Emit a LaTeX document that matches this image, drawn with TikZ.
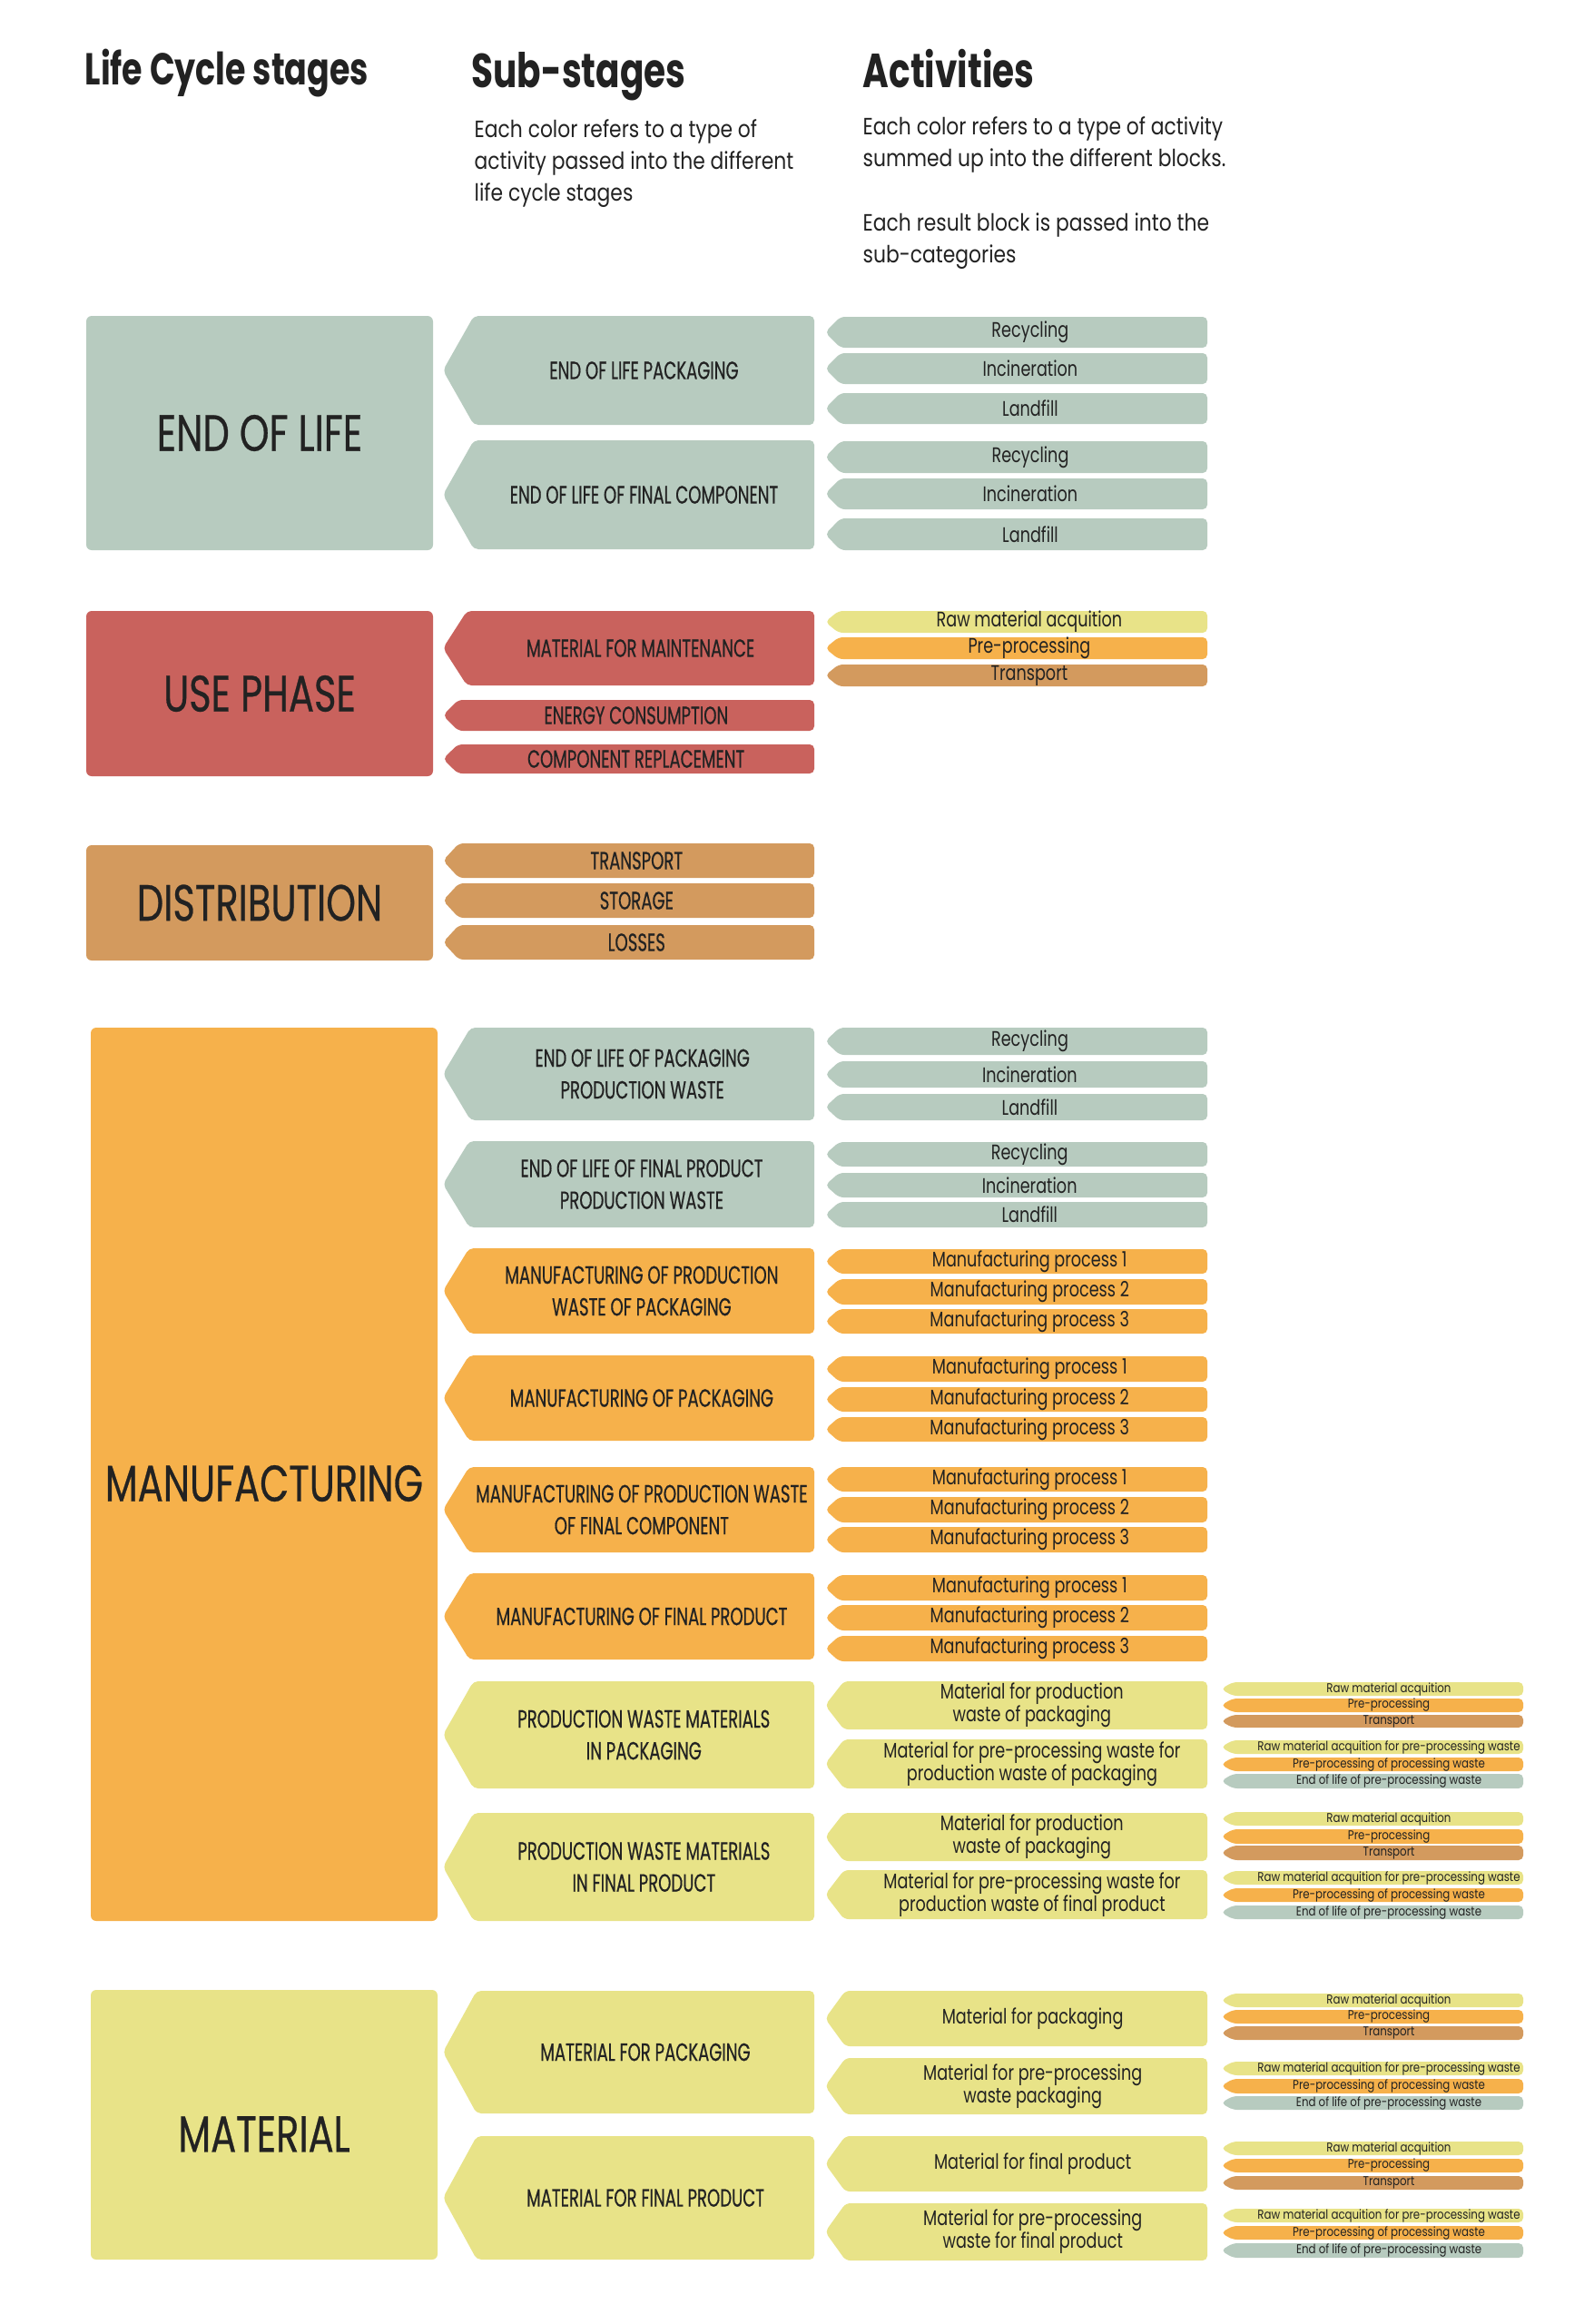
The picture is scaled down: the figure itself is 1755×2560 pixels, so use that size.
\documentclass[tikz,border=0pt]{standalone}
\usepackage{fontspec}
\setmainfont{Poppins}
\newfontfamily\headfnt{Poppins}[FakeStretch=0.74]
\newfontfamily\capsfnt{Poppins}[FakeStretch=0.74, FakeBold=0.5]
\newfontfamily\subfnt{Poppins}[FakeStretch=0.66, FakeBold=0.5]
\newfontfamily\lowfnt{Poppins}[FakeStretch=0.76]
\newfontfamily\descfnt{Poppins}[FakeStretch=0.84]
\usetikzlibrary{positioning}
\definecolor{ink}{HTML}{222222}
\definecolor{eolc}{HTML}{B7CBBF}
\definecolor{usec}{HTML}{C9625D}
\definecolor{distc}{HTML}{D39A5E}
\definecolor{mfgc}{HTML}{F6B14B}
\definecolor{matc}{HTML}{E8E388}
\tikzset{stage/.style={rounded corners=0.6mm, inner sep=0pt, text=ink, font=\capsfnt\fontsize{16}{18}\selectfont}}
\tikzset{head/.style={anchor=base west, inner sep=0pt, text=ink, font=\headfnt\bfseries\fontsize{15}{18}\selectfont}}
\tikzset{desc/.style={anchor=north west, align=left, inner sep=0pt, text=ink, font=\descfnt\fontsize{7.4}{10}\selectfont}}
\tikzset{subtxt/.style={align=center, inner sep=0pt, text=ink, font=\subfnt\fontsize{7.8}{10}\selectfont}}
\tikzset{acttxt/.style={align=center, inner sep=0pt, text=ink, xshift=0.7mm, font=\lowfnt\fontsize{6.6}{7.1}\selectfont}}
\tikzset{smalltxt/.style={align=center, inner sep=0pt, text=ink, xshift=1.2mm, font=\descfnt\fontsize{4}{4.5}\selectfont}}
% tag with a point on the left: name, left, top, right, bottom, colour, text style, text
\newcommand{\tagbox}[8]{%
  \pgfmathsetmacro{\tagind}{10+0.2*(#5-#3)}%
  \fill[#6, rounded corners=0.5mm] ({#2+\tagind},#3) -- (#2,{(#3+#5)/2}) -- ({#2+\tagind},#5) -- (#4,#5) -- (#4,#3) -- cycle;
  \node[#7] (#1) at ({(#2+\tagind+#4)/2},{(#3+#5)/2}) {#8};
}

\begin{document}
\begin{tikzpicture}[x=0.1mm, y=-0.1mm]
        \useasboundingbox (0,0) rectangle (1755,2560);

        % headings
        \node[head, font=\headfnt\bfseries\fontsize{14}{17}\selectfont] (hstage) at (93,93) {Life Cycle stages};
        \node[head] (hsub) at (519,96) {Sub-stages};
        \node[head] (hact) at (950,96) {Activities};
        \node[desc] (dsub) at (522,131) {Each color refers to a type of\\activity passed into the different\\life cycle stages};
        \node[desc] (dact) at (950,128) {Each color refers to a type of activity\\summed up into the different blocks.\\[10pt]Each result block is passed into the\\sub-categories};

        % end of life
        \node[stage, fill=eolc, minimum width=38.2mm, minimum height=25.8mm] (eol) at (286,477) {END OF LIFE};
        \tagbox{eolpack}{488}{348}{897}{468}{eolc}{subtxt}{END OF LIFE PACKAGING}
        \tagbox{eolcomp}{488}{485}{897}{605}{eolc}{subtxt}{END OF LIFE OF FINAL COMPONENT}
        \tagbox{eolpackrec}{909}{349}{1330}{383}{eolc}{acttxt}{Recycling}
        \tagbox{eolpackinc}{909}{389}{1330}{423}{eolc}{acttxt}{Incineration}
        \tagbox{eolpacklan}{909}{433}{1330}{467}{eolc}{acttxt}{Landfill}
        \tagbox{eolcomprec}{909}{486}{1330}{521}{eolc}{acttxt}{Recycling}
        \tagbox{eolcompinc}{909}{527}{1330}{561}{eolc}{acttxt}{Incineration}
        \tagbox{eolcomplan}{909}{571}{1330}{606}{eolc}{acttxt}{Landfill}

        % use phase
        \node[stage, fill=usec, minimum width=38.2mm, minimum height=18.2mm] (use) at (286,764) {USE PHASE};
        \tagbox{usemaint}{488}{673}{897}{755}{usec}{subtxt}{MATERIAL FOR MAINTENANCE}
        \tagbox{useenergy}{488}{771}{897}{805}{usec}{subtxt}{ENERGY CONSUMPTION}
        \tagbox{userepl}{488}{820}{897}{852}{usec}{subtxt}{COMPONENT REPLACEMENT}
        \tagbox{maintraw}{909}{673}{1330}{697}{matc}{acttxt}{Raw material acquition}
        \tagbox{maintpre}{909}{702}{1330}{726}{mfgc}{acttxt}{Pre-processing}
        \tagbox{mainttra}{909}{732}{1330}{756}{distc}{acttxt}{Transport}

        % distribution
        \node[stage, fill=distc, minimum width=38.2mm, minimum height=12.7mm] (dist) at (286,994.5) {DISTRIBUTION};
        \tagbox{disttrans}{488}{929}{897}{967}{distc}{subtxt}{TRANSPORT}
        \tagbox{diststor}{488}{973}{897}{1011}{distc}{subtxt}{STORAGE}
        \tagbox{distloss}{488}{1019}{897}{1057}{distc}{subtxt}{LOSSES}

        % manufacturing
        \node[stage, fill=mfgc, minimum width=38.2mm, minimum height=98.4mm, text height=17pt] (mfg) at (291,1624) {MANUFACTURING};
        \tagbox{eolpw}{488}{1132}{897}{1234}{eolc}{subtxt}{END OF LIFE OF PACKAGING\\PRODUCTION WASTE}
        \tagbox{eolfpw}{488}{1257}{897}{1352}{eolc}{subtxt}{END OF LIFE OF FINAL PRODUCT\\PRODUCTION WASTE}
        \tagbox{mfgpwp}{488}{1375}{897}{1469}{mfgc}{subtxt}{MANUFACTURING OF PRODUCTION\\WASTE OF PACKAGING}
        \tagbox{mfgp}{488}{1493}{897}{1587}{mfgc}{subtxt}{MANUFACTURING OF PACKAGING}
        \tagbox{mfgpwc}{488}{1616}{897}{1710}{mfgc}{subtxt}{MANUFACTURING OF PRODUCTION WASTE\\OF FINAL COMPONENT}
        \tagbox{mfgfp}{488}{1733}{897}{1828}{mfgc}{subtxt}{MANUFACTURING OF FINAL PRODUCT}
        \tagbox{pwmp}{488}{1852}{897}{1970}{matc}{subtxt}{PRODUCTION WASTE MATERIALS\\IN PACKAGING}
        \tagbox{pwmfp}{488}{1997}{897}{2116}{matc}{subtxt}{PRODUCTION WASTE MATERIALS\\IN FINAL PRODUCT}

        \tagbox{eolpwrec}{909}{1132}{1330}{1162}{eolc}{acttxt}{Recycling}
        \tagbox{eolpwinc}{909}{1169}{1330}{1198}{eolc}{acttxt}{Incineration}
        \tagbox{eolpwlan}{909}{1205}{1330}{1234}{eolc}{acttxt}{Landfill}
        \tagbox{eolfpwrec}{909}{1258}{1330}{1285}{eolc}{acttxt}{Recycling}
        \tagbox{eolfpwinc}{909}{1292}{1330}{1319}{eolc}{acttxt}{Incineration}
        \tagbox{eolfpwlan}{909}{1324}{1330}{1352}{eolc}{acttxt}{Landfill}

        \tagbox{mfgpwpa}{909}{1376}{1330}{1403}{mfgc}{acttxt}{Manufacturing process 1}
        \tagbox{mfgpwpb}{909}{1409}{1330}{1437}{mfgc}{acttxt}{Manufacturing process 2}
        \tagbox{mfgpwpc}{909}{1442}{1330}{1469}{mfgc}{acttxt}{Manufacturing process 3}
        \tagbox{mfgpa}{909}{1494}{1330}{1522}{mfgc}{acttxt}{Manufacturing process 1}
        \tagbox{mfgpb}{909}{1528}{1330}{1555}{mfgc}{acttxt}{Manufacturing process 2}
        \tagbox{mfgpc}{909}{1561}{1330}{1588}{mfgc}{acttxt}{Manufacturing process 3}
        \tagbox{mfgpwca}{909}{1616}{1330}{1643}{mfgc}{acttxt}{Manufacturing process 1}
        \tagbox{mfgpwcb}{909}{1649}{1330}{1677}{mfgc}{acttxt}{Manufacturing process 2}
        \tagbox{mfgpwcc}{909}{1682}{1330}{1710}{mfgc}{acttxt}{Manufacturing process 3}
        \tagbox{mfgfpa}{909}{1735}{1330}{1763}{mfgc}{acttxt}{Manufacturing process 1}
        \tagbox{mfgfpb}{909}{1768}{1330}{1796}{mfgc}{acttxt}{Manufacturing process 2}
        \tagbox{mfgfpc}{909}{1802}{1330}{1830}{mfgc}{acttxt}{Manufacturing process 3}

        \tagbox{pwmpmat}{909}{1852}{1330}{1905}{matc}{acttxt}{Material for production\\waste of packaging}
        \tagbox{pwmppre}{909}{1916}{1330}{1970}{matc}{acttxt}{Material for pre-processing waste for\\production waste of packaging}
        \tagbox{pwmfpmat}{909}{1997}{1330}{2050}{matc}{acttxt}{Material for production\\waste of packaging}
        \tagbox{pwmfppre}{909}{2060}{1330}{2114}{matc}{acttxt}{Material for pre-processing waste for\\production waste of final product}

        \tagbox{pwmpmatr}{1345}{1853}{1678}{1868}{matc}{smalltxt}{Raw material acquition}
        \tagbox{pwmpmatp}{1345}{1871}{1678}{1886}{mfgc}{smalltxt}{Pre-processing}
        \tagbox{pwmpmatt}{1345}{1889}{1678}{1903}{distc}{smalltxt}{Transport}
        \tagbox{pwmppreR}{1345}{1917}{1678}{1932}{matc}{smalltxt}{Raw material acquition for pre-processing waste}
        \tagbox{pwmppreP}{1345}{1936}{1678}{1951}{mfgc}{smalltxt}{Pre-processing of processing waste}
        \tagbox{pwmppreE}{1345}{1954}{1678}{1970}{eolc}{smalltxt}{End of life of pre-processing waste}
        \tagbox{pwmfpmatr}{1345}{1996}{1678}{2011}{matc}{smalltxt}{Raw material acquition}
        \tagbox{pwmfpmatp}{1345}{2015}{1678}{2031}{mfgc}{smalltxt}{Pre-processing}
        \tagbox{pwmfpmatt}{1345}{2033}{1678}{2049}{distc}{smalltxt}{Transport}
        \tagbox{pwmfppreR}{1345}{2061}{1678}{2076}{matc}{smalltxt}{Raw material acquition for pre-processing waste}
        \tagbox{pwmfppreP}{1345}{2080}{1678}{2095}{mfgc}{smalltxt}{Pre-processing of processing waste}
        \tagbox{pwmfppreE}{1345}{2099}{1678}{2114}{eolc}{smalltxt}{End of life of pre-processing waste}

        % material
        \node[stage, fill=matc, minimum width=38.2mm, minimum height=29.7mm, text height=17pt] (mat) at (291,2340.5) {MATERIAL};
        \tagbox{matpack}{488}{2193}{897}{2328}{matc}{subtxt}{MATERIAL FOR PACKAGING}
        \tagbox{matprod}{488}{2353}{897}{2489}{matc}{subtxt}{MATERIAL FOR FINAL PRODUCT}
        \tagbox{matpackm}{909}{2193}{1330}{2254}{matc}{acttxt}{Material for packaging}
        \tagbox{matpackw}{909}{2267}{1330}{2329}{matc}{acttxt}{Material for pre-processing\\waste packaging}
        \tagbox{matprodm}{909}{2353}{1330}{2414}{matc}{acttxt}{Material for final product}
        \tagbox{matprodw}{909}{2427}{1330}{2490}{matc}{acttxt}{Material for pre-processing\\waste for final product}

        \tagbox{matpackmr}{1345}{2196}{1678}{2211}{matc}{smalltxt}{Raw material acquition}
        \tagbox{matpackmp}{1345}{2214}{1678}{2229}{mfgc}{smalltxt}{Pre-processing}
        \tagbox{matpackmt}{1345}{2232}{1678}{2247}{distc}{smalltxt}{Transport}
        \tagbox{matpackwr}{1345}{2271}{1678}{2286}{matc}{smalltxt}{Raw material acquition for pre-processing waste}
        \tagbox{matpackwp}{1345}{2290}{1678}{2306}{mfgc}{smalltxt}{Pre-processing of processing waste}
        \tagbox{matpackwe}{1345}{2309}{1678}{2324}{eolc}{smalltxt}{End of life of pre-processing waste}
        \tagbox{matprodmr}{1345}{2359}{1678}{2374}{matc}{smalltxt}{Raw material acquition}
        \tagbox{matprodmp}{1345}{2378}{1678}{2393}{mfgc}{smalltxt}{Pre-processing}
        \tagbox{matprodmt}{1345}{2397}{1678}{2412}{distc}{smalltxt}{Transport}
        \tagbox{matprodwr}{1345}{2433}{1678}{2448}{matc}{smalltxt}{Raw material acquition for pre-processing waste}
        \tagbox{matprodwp}{1345}{2452}{1678}{2467}{mfgc}{smalltxt}{Pre-processing of processing waste}
        \tagbox{matprodwe}{1345}{2471}{1678}{2487}{eolc}{smalltxt}{End of life of pre-processing waste}
\end{tikzpicture}
\end{document}
